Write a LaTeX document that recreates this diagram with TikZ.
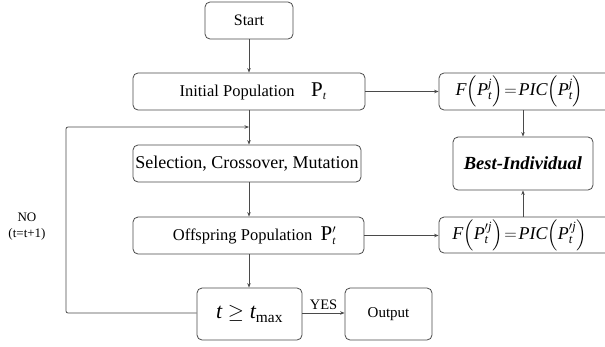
\documentclass[tikz,border=0pt]{standalone}
\usepackage{amsmath}
\usepackage{fontspec}
\setmainfont{Liberation Serif}
\usetikzlibrary{arrows.meta}
\newcommand\mi[1]{\textit{#1}}
\definecolor{edge}{HTML}{4A4A4A}
\begin{document}
\begin{tikzpicture}[x=1pt,y=-1pt,
  box/.style={draw=edge,line width=0.8pt,rounded corners=5pt,inner sep=0pt,
    minimum height=37pt,align=center,font=\fontsize{16.5}{18}\selectfont},
  conn/.style={draw=edge,line width=0.8pt,-{Stealth[length=4.5pt,width=3.5pt]}},
  plain/.style={draw=edge,line width=0.8pt}]
\useasboundingbox (0,0) rectangle (605,346);
\node[box,minimum width=88pt,font=\fontsize{16}{18}\selectfont] (start) at (249,20.5) {Start};
\node[box,minimum width=232pt] (init) at (249,91.5) {\hspace*{8pt}Initial Population\quad {\fontsize{21}{22}\selectfont P}$_{\mi{t}}$};
\node[box,minimum width=228pt,font=\fontsize{18}{20}\selectfont] (sel) at (247,163.5) {Selection, Crossover, Mutation};
\node[box,minimum width=231pt] (off) at (248.5,235.5) {\hspace*{12pt}Offspring Population\ \ {\fontsize{21}{22}\selectfont P}$^{\prime}_{\mi{t}}$};
\node[box,minimum width=105pt,minimum height=52pt,font=\fontsize{22}{24}\selectfont] (cond) at (249.5,314) {$\mi{t}\geq \mi{t}_{\textrm{max}}$};
\node[box,minimum width=87pt,minimum height=52pt,font=\fontsize{15}{17}\selectfont] (out) at (388.5,314) {Output};
\node[box,minimum width=175pt,minimum height=37pt,font=\fontsize{18}{20}\selectfont] (ftop) at (526.5,91.5)
  {$\mi{F}\!\left(\mi{P}_{\mi{t}}^{\mi{j}}\right)\!=\!\mi{PIC}\!\left(\mi{P}_{\mi{t}}^{\mi{j}}\right)$\hspace*{14pt}};
\node[box,minimum width=175pt,minimum height=36pt,font=\fontsize{18}{20}\selectfont] (fbot) at (526.5,235)
  {$\mi{F}\!\left(\mi{P}_{\mi{t}}^{\prime\mi{j}}\right)\!=\!\mi{PIC}\!\left(\mi{P}_{\mi{t}}^{\prime\mi{j}}\right)$\hspace*{14pt}};
\node[box,minimum width=140pt,minimum height=53pt,font=\fontsize{18.5}{20}\selectfont\bfseries\itshape] (best) at (523,163.5) {Best-Individual};
\node[font=\fontsize{13}{15}\selectfont,align=center,inner sep=0pt] (no) at (27,227) {NO\\[1pt](t=t+1)};
\coordinate (j) at (249,127);
\coordinate (lb) at (66,313);
\coordinate (lt) at (66,127);
\draw[conn] (start) -- (init);
\draw[plain] (init.south -| j) -- (j);
\draw[conn] (j) -- (sel.north -| j);
\draw[conn] (sel.south -| j) -- (off.north -| j);
\draw[conn] (off.south -| j) -- (cond.north -| j);
\draw[conn] (cond.east |- lb) -- node[above=2pt,font=\fontsize{14.5}{16}\selectfont,inner sep=1pt] (yes) {YES} (out.west |- lb);
\draw[conn,rounded corners=2pt] (cond.west |- lb) -- (lb) -- (lt) -- (j);
\draw[conn] (init.east) -- (ftop.west |- init.east);
\draw[conn] (off.east) -- (fbot.west |- off.east);
\draw[conn] (ftop.south -| best.north) -- (best.north);
\draw[conn] (fbot.north -| best.south) -- (best.south);
\end{tikzpicture}
\end{document}
